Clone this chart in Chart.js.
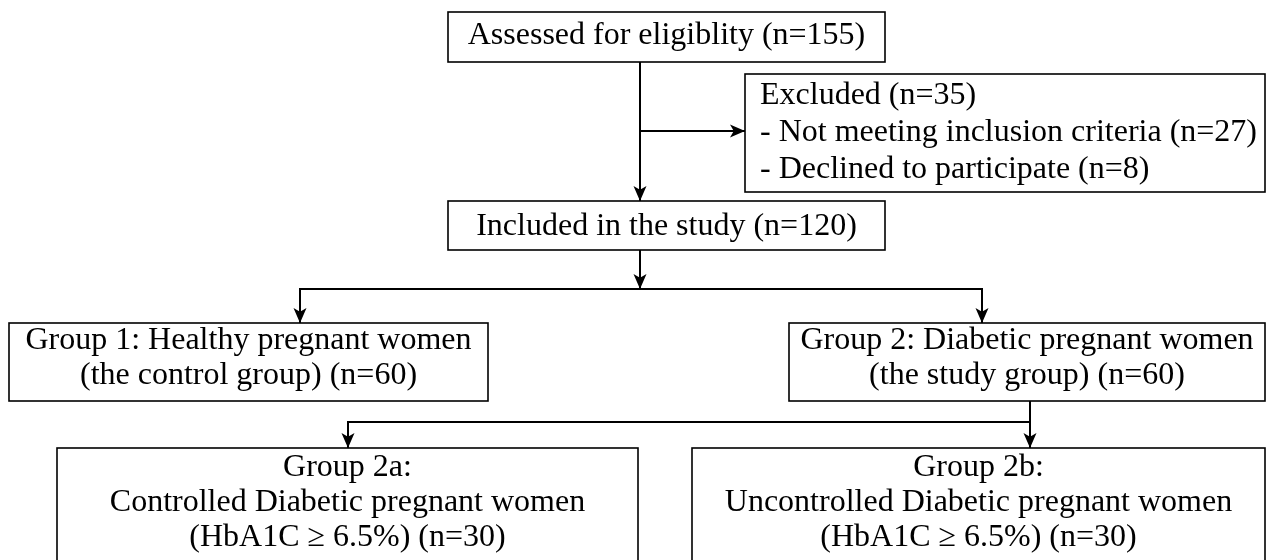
<!DOCTYPE html>
<html>
<head>
<meta charset="utf-8">
<script src="https://cdn.jsdelivr.net/npm/chart.js@4"></script>
<style>
  body { margin: 0; background: #fff; }
  #wrap { width: 1270px; height: 560px; }
</style>
</head>
<body>
<div id="wrap"><canvas id="flow" width="1270" height="560"></canvas></div>
<script>
// Data: stage names and participant counts
const stages = [
  'Assessed for eligiblity',
  'Excluded',
  'Included in the study',
  'Group 1: Healthy pregnant women',
  'Group 2: Diabetic pregnant women',
  'Group 2a:',
  'Group 2b:'
];
const counts = [155, 35, 120, 60, 60, 30, 30];
const exclusionReasons = ['Not meeting inclusion criteria', 'Declined to participate'];
const exclusionCounts = [27, 8];
const groupNotes = ['(the control group)', '(the study group)'];
const subgroupNames = ['Controlled Diabetic pregnant women', 'Uncontrolled Diabetic pregnant women'];
const subgroupCriteria = ['(HbA1C \u2265 6.5%)', '(HbA1C \u2265 6.5%)'];

// text lines for each box, built from the data above
const boxText = [
  [stages[0] + ' (n=' + counts[0] + ')'],
  [stages[1] + ' (n=' + counts[1] + ')'].concat(
    exclusionReasons.map((r, i) => '- ' + r + ' (n=' + exclusionCounts[i] + ')')),
  [stages[2] + ' (n=' + counts[2] + ')'],
  [stages[3], groupNotes[0] + ' (n=' + counts[3] + ')'],
  [stages[4], groupNotes[1] + ' (n=' + counts[4] + ')'],
  [stages[5], subgroupNames[0], subgroupCriteria[0] + ' (n=' + counts[5] + ')'],
  [stages[6], subgroupNames[1], subgroupCriteria[1] + ' (n=' + counts[6] + ')']
];

// layout in scale units (x 0..1270, y 0..560 top-down); ty = first baseline, lh = line step
const boxLayout = [
  { x0: 448, y0: 12, x1: 885, y1: 62, align: 'center', ty: 44, lh: 0 },
  { x0: 745, y0: 74, x1: 1265, y1: 192, align: 'left', ty: 104, lh: 37 },
  { x0: 448, y0: 201, x1: 885, y1: 250, align: 'center', ty: 235, lh: 0 },
  { x0: 9, y0: 323, x1: 488, y1: 401, align: 'center', ty: 349, lh: 35 },
  { x0: 789, y0: 323, x1: 1265, y1: 401, align: 'center', ty: 349, lh: 35 },
  { x0: 57, y0: 448, x1: 638, y1: 580, align: 'center', ty: 476, lh: 35 },
  { x0: 692, y0: 448, x1: 1265, y1: 580, align: 'center', ty: 476, lh: 35 }
];
// connectors: polyline points, arrow head at the last point (and the first if arrowStart)
const connectors = [
  { pts: [[640, 62], [640, 201]] },
  { pts: [[640, 131], [745, 131]] },
  { pts: [[640, 250], [640, 289]] },
  { pts: [[300, 323], [300, 289], [982, 289], [982, 323]], arrowStart: true },
  { pts: [[1030, 401], [1030, 448]] },
  { pts: [[1030, 422], [348, 422], [348, 448]] }
];

const font = '32px "Liberation Serif", "Times New Roman", serif';

function arrowHead(ctx, x, y, dx, dy) {
  const len = 15, half = 6.5;
  const n = Math.hypot(dx, dy);
  const ux = dx / n, uy = dy / n;
  ctx.beginPath();
  ctx.moveTo(x, y);
  ctx.lineTo(x - ux * len - uy * half, y - uy * len + ux * half);
  ctx.lineTo(x - ux * len * 0.75, y - uy * len * 0.75);
  ctx.lineTo(x - ux * len + uy * half, y - uy * len - ux * half);
  ctx.closePath();
  ctx.fill();
}

const flowPlugin = {
  id: 'flow',
  afterDatasetsDraw(chart) {
    const ctx = chart.ctx;
    const sx = chart.scales.x, sy = chart.scales.y;
    const px = v => sx.getPixelForValue(v);
    const py = v => sy.getPixelForValue(v);
    ctx.save();
    ctx.strokeStyle = '#000';
    ctx.fillStyle = '#000';

    // connectors
    ctx.lineWidth = 2;
    connectors.forEach(c => {
      ctx.beginPath();
      c.pts.forEach((p, i) => {
        const X = px(p[0]), Y = py(p[1]);
        if (i === 0) ctx.moveTo(X, Y); else ctx.lineTo(X, Y);
      });
      ctx.stroke();
      const a = c.pts[c.pts.length - 1], b = c.pts[c.pts.length - 2];
      arrowHead(ctx, px(a[0]), py(a[1]), px(a[0]) - px(b[0]), py(a[1]) - py(b[1]));
      if (c.arrowStart) {
        const s = c.pts[0], t = c.pts[1];
        arrowHead(ctx, px(s[0]), py(s[1]), px(s[0]) - px(t[0]), py(s[1]) - py(t[1]));
      }
    });

    // boxes and text
    ctx.lineWidth = 1.6;
    ctx.font = font;
    ctx.textBaseline = 'alphabetic';
    boxLayout.forEach((b, i) => {
      const x0 = px(b.x0), x1 = px(b.x1), y0 = py(b.y0), y1 = py(b.y1);
      ctx.strokeRect(x0, y0, x1 - x0, y1 - y0);
      ctx.textAlign = b.align;
      const tx = b.align === 'left' ? x0 + 15 : (x0 + x1) / 2;
      boxText[i].forEach((t, j) => {
        ctx.fillText(t, tx, py(b.ty + j * b.lh));
      });
    });
    ctx.restore();
  }
};

new Chart(document.getElementById('flow'), {
  type: 'scatter',
  data: {
    datasets: [{
      data: counts.map((c, i) => ({ x: (boxLayout[i].x0 + boxLayout[i].x1) / 2, y: boxLayout[i].ty })),
      pointRadius: 0
    }]
  },
  options: {
    responsive: false,
    animation: false,
    events: [],
    layout: { padding: 0 },
    plugins: { legend: { display: false }, tooltip: { enabled: false } },
    scales: {
      x: { type: 'linear', min: 0, max: 1270, display: false },
      y: { type: 'linear', min: 0, max: 560, reverse: true, display: false }
    }
  },
  plugins: [flowPlugin]
});
</script>
</body>
</html>
